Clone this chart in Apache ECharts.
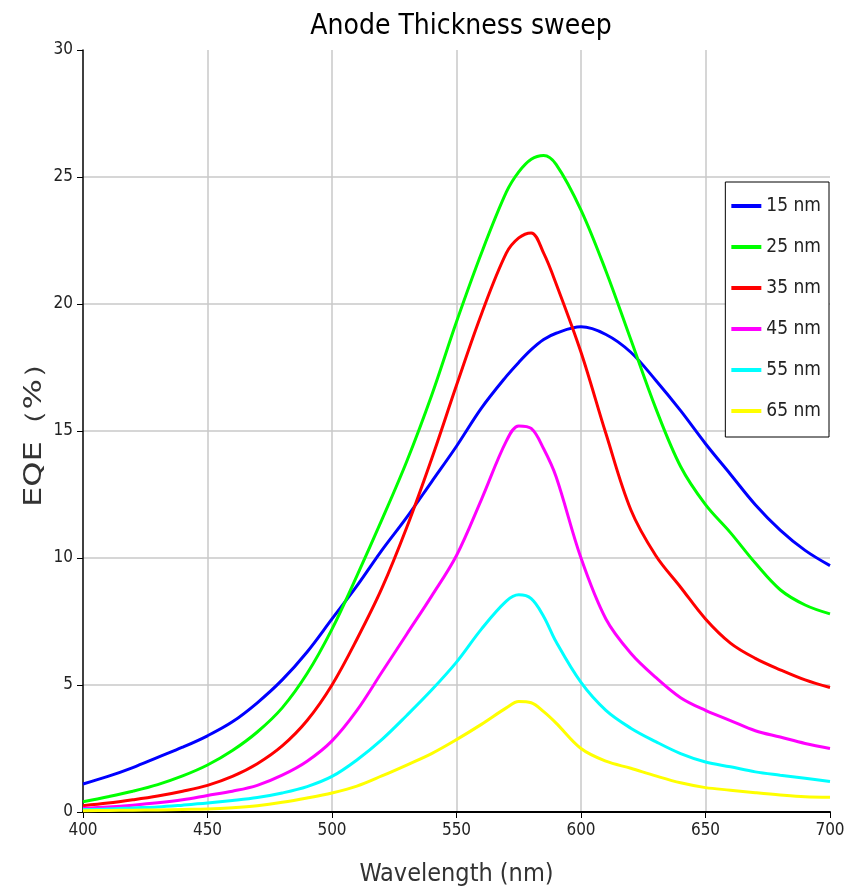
<!DOCTYPE html>
<html>
<head>
	<meta charset="UTF-8">
	<title>Anode Thickness sweep</title>
	<style>
		html, body { margin: 0; padding: 0; background: #fff; }
		#chart { width: 861px; height: 896px; }
	</style>
	<script src="https://cdn.jsdelivr.net/npm/echarts@6/dist/echarts.min.js"></script>
</head>
<body>
	<div id="chart"></div>
	<script>
		// wavelength (nm)
		var wavelengths = [400, 410, 420, 430, 440, 450, 460, 470, 480, 490, 500, 510, 520, 530, 540, 550, 560, 570, 575, 580, 585, 590, 600, 610, 620, 630, 640, 650, 660, 670, 680, 690, 700];
		// EQE (%) per anode thickness
		var eqe15 = [1.1, 1.4, 1.75, 2.15, 2.55, 3.0, 3.55, 4.3, 5.2, 6.3, 7.6, 8.9, 10.3, 11.6, 13.0, 14.4, 15.9, 17.15, 17.7, 18.2, 18.6, 18.85, 19.1, 18.8, 18.1, 17.0, 15.8, 14.5, 13.3, 12.1, 11.1, 10.3, 9.7];
		var eqe25 = [0.4, 0.6, 0.82, 1.08, 1.42, 1.85, 2.42, 3.15, 4.1, 5.45, 7.2, 9.3, 11.5, 13.8, 16.4, 19.3, 22.0, 24.4, 25.2, 25.7, 25.85, 25.5, 23.7, 21.3, 18.6, 15.9, 13.6, 12.1, 11.0, 9.8, 8.75, 8.15, 7.8];
		var eqe35 = [0.25, 0.35, 0.48, 0.63, 0.82, 1.05, 1.4, 1.9, 2.6, 3.6, 5.0, 6.8, 8.8, 11.2, 13.9, 16.8, 19.6, 22.0, 22.6, 22.8, 22.0, 20.8, 18.1, 14.9, 11.9, 10.1, 8.85, 7.6, 6.65, 6.05, 5.6, 5.2, 4.9];
		var eqe45 = [0.15, 0.2, 0.27, 0.36, 0.48, 0.65, 0.82, 1.05, 1.45, 2.0, 2.8, 4.0, 5.5, 7.0, 8.5, 10.1, 12.3, 14.6, 15.2, 15.1, 14.3, 13.2, 10.0, 7.6, 6.25, 5.3, 4.5, 4.0, 3.6, 3.2, 2.95, 2.7, 2.5];
		var eqe55 = [0.1, 0.12, 0.16, 0.2, 0.27, 0.35, 0.45, 0.57, 0.75, 1.0, 1.4, 2.05, 2.85, 3.8, 4.8, 5.9, 7.2, 8.3, 8.55, 8.4, 7.7, 6.7, 5.1, 4.0, 3.3, 2.77, 2.3, 1.97, 1.78, 1.58, 1.45, 1.33, 1.2];
		var eqe65 = [0.05, 0.06, 0.07, 0.08, 0.1, 0.12, 0.17, 0.25, 0.38, 0.55, 0.75, 1.02, 1.42, 1.85, 2.3, 2.85, 3.45, 4.1, 4.35, 4.3, 3.95, 3.5, 2.5, 2.0, 1.72, 1.42, 1.15, 0.96, 0.86, 0.76, 0.67, 0.6, 0.58];

		var seriesNames = ['15 nm', '25 nm', '35 nm', '45 nm', '55 nm', '65 nm'];
		var seriesColors = ['#0000ff', '#00ff00', '#ff0000', '#ff00ff', '#00ffff', '#ffff00'];
		var seriesData = [eqe15, eqe25, eqe35, eqe45, eqe55, eqe65];

		var condensed = '"DejaVu Sans Condensed", "DejaVu Sans", sans-serif';

		var mychart = echarts.init(document.getElementById('chart'));
		mychart.setOption({
			animation: false,
			title: {
				text: 'Anode Thickness sweep',
				left: 456,
				textAlign: 'center',
				top: 8,
				textStyle: {
					fontFamily: condensed,
					fontSize: 28,
					fontWeight: 'normal',
					color: '#000'
				}
			},
			legend: {
				orient: 'vertical',
				right: 32,
				top: 182,
				icon: 'rect',
				itemWidth: 30,
				itemHeight: 4,
				itemGap: 21,
				padding: [14, 8, 16, 6],
				borderColor: '#000',
				borderWidth: 1,
				backgroundColor: '#fff',
				textStyle: {
					fontFamily: condensed,
					fontSize: 19,
					lineHeight: 20,
					color: '#222'
				},
				data: seriesNames
			},
			// y axis title, squeezed across like in the original
			graphic: [{
				type: 'text',
				x: 35,
				y: 427,
				rotation: Math.PI / 2,
				scaleY: 0.75,
				style: {
					text: 'EQE（%）',
					fontFamily: '"DejaVu Sans", sans-serif',
					fontSize: 32,
					fill: '#333',
					align: 'center',
					verticalAlign: 'middle',
					textAlign: 'center',
					textVerticalAlign: 'middle'
				}
			}],
			grid: {
				left: 83,
				right: 31,
				top: 50,
				bottom: 84
			},
			xAxis: {
				type: 'value',
				min: 400,
				max: 700,
				interval: 50,
				name: 'Wavelength (nm)',
				nameLocation: 'middle',
				nameGap: 50,
				nameTextStyle: {
					fontFamily: condensed,
					fontSize: 25,
					color: '#333'
				},
				axisLine: { lineStyle: { color: '#000', width: 2 } },
				axisTick: { length: 6, lineStyle: { color: '#000' } },
				axisLabel: {
					fontFamily: condensed,
					fontSize: 17,
					color: '#222',
					margin: 10
				},
				splitLine: {
					show: true,
					showMinLine: false,
					showMaxLine: false,
					lineStyle: { color: '#c8c8c8', width: 1.5 }
				}
			},
			yAxis: {
				type: 'value',
				min: 0,
				max: 30,
				interval: 5,
				axisLine: { show: true, lineStyle: { color: '#000', width: 1.5 } },
				axisTick: { show: true, length: 6, lineStyle: { color: '#000' } },
				axisLabel: {
					fontFamily: condensed,
					fontSize: 17,
					color: '#222',
					margin: 10
				},
				splitLine: {
					show: true,
					showMinLine: false,
					showMaxLine: false,
					lineStyle: { color: '#c8c8c8', width: 1.5 }
				}
			},
			series: seriesNames.map(function (name, i) {
				return {
					type: 'line',
					name: name,
					data: wavelengths.map(function (w, j) {
						return [w, seriesData[i][j]];
					}),
					showSymbol: false,
					smooth: 0.35,
					color: seriesColors[i],
					lineStyle: { color: seriesColors[i], width: 3 }
				};
			})
		});
	</script>
</body>
</html>
